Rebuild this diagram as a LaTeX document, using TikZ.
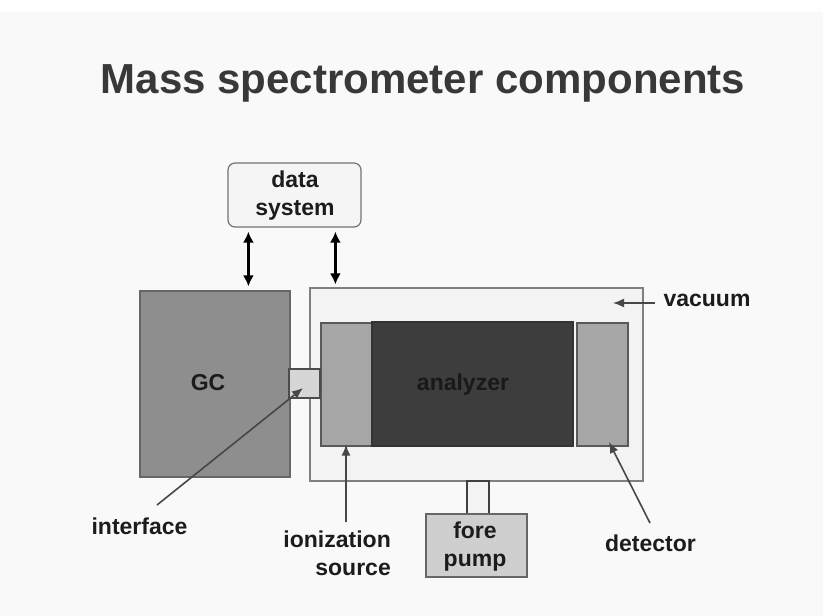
\documentclass[tikz,border=0pt]{standalone}
\usepackage{fontspec}
\setmainfont{Liberation Sans}
\usetikzlibrary{arrows.meta,calc}
\definecolor{bgc}{HTML}{F9F9F9}
\definecolor{txt}{HTML}{1C1C1C}
\definecolor{ttl}{HTML}{383838}
\definecolor{gcc}{HTML}{8E8E8E}
\definecolor{vacc}{HTML}{F3F3F3}
\definecolor{ionc}{HTML}{A6A6A6}
\definecolor{anac}{HTML}{3D3D3D}
\definecolor{intc}{HTML}{D6D6D6}
\definecolor{pumpc}{HTML}{CFCFCF}
\definecolor{dsc}{HTML}{F5F5F5}
\tikzset{
  box/.style={draw=#1, line width=1.2pt, inner sep=0pt, rectangle},
  lbl/.style={text=txt, font=\fontsize{23}{28}\selectfont\bfseries, inner sep=0pt, align=center},
  dbl/.style={{Latex[length=11pt,width=11pt]}-{Latex[length=11pt,width=11pt]}, line width=2.4pt, black},
  callout/.style={-{Latex[length=11pt,width=9pt]}, line width=1.6pt, draw=black!72},
}
\begin{document}
\begin{tikzpicture}[x=1pt,y=-1pt]
\useasboundingbox (0,0) rectangle (823,616);
\fill[white] (0,0) rectangle (823,12);
\fill[bgc] (0,12) rectangle (823,616);
% title
\node[anchor=base, text=ttl, font=\fontsize{42}{50}\selectfont\bfseries, inner sep=0pt] (title) at (423,93) {Mass spectrometer components};
% boxes
\node[box=black!55, fill=dsc, rounded corners=7pt, minimum width=133pt, minimum height=64pt] (ds) at (294.5,195) {};
\node[lbl] (dstext) at (295,196) {data\\system};
\node[box=black!60, fill=gcc, minimum width=150pt, minimum height=186pt] (gc) at (215,384) {};
\node[lbl] (gctext) at (208,383) {GC};
\node[box=black!50, fill=vacc, minimum width=333pt, minimum height=193pt] (vac) at (476.5,384.5) {};
\node[box=black!65, fill=ionc, minimum width=51pt, minimum height=123pt] (ion) at (346.5,384.5) {};
\node[box=black!80, fill=anac, minimum width=201pt, minimum height=124pt] (ana) at (472.5,384) {};
\node[lbl, text=black!90] (anatext) at (463,385) {analyzer};
\node[box=black!65, fill=ionc, minimum width=51pt, minimum height=123pt] (det) at (602.5,384.5) {};
\node[box=black!70, fill=intc, minimum width=31pt, minimum height=29pt] (intf) at (304.5,383.5) {};
\node[box=black!75, fill=vacc, minimum width=22pt, minimum height=33pt] (pipe) at (478,497.5) {};
\node[box=black!60, fill=pumpc, minimum width=101pt, minimum height=63pt] (pump) at (476.5,545.5) {};
\node[lbl] (pumptext) at (475,547) {fore\\pump};
% data system arrows
\draw[dbl, shorten <=4pt, shorten >=4pt] ([xshift=21pt]ds.south west) -- ([xshift=21pt]ds.south west |- gc.north);
\draw[dbl, shorten <=4pt, shorten >=3pt] ([xshift=108pt]ds.south west) -- ([xshift=108pt]ds.south west |- vac.north);
% labels
\node[lbl] (vactext) at (707,300) {vacuum};
\coordinate (vacend) at (613,303);
\draw[callout] (vactext.west |- vacend) ++(-8,0) coordinate (vacstart) (vacstart) -- (vacend);
\node[lbl] (inttext) at (139.5,526) {interface};
\coordinate (intfrom) at (157,505);
\coordinate (intto) at (303,388);
\draw[callout] (intfrom) -- (intto);
\node[lbl, align=right, anchor=east] (iontext) at (391,553) {ionization\\source};
\coordinate (ionfrom) at (346,522);
\draw[callout] (ionfrom) -- (ionfrom |- ion.south) ++(0,-2) coordinate (iontip);
\node[lbl] (dettext) at (650.5,543) {detector};
\coordinate (detfrom) at (650,523);
\coordinate (detto) at (609,442);
\draw[callout] (detfrom) -- (detto);
\end{tikzpicture}
\end{document}
